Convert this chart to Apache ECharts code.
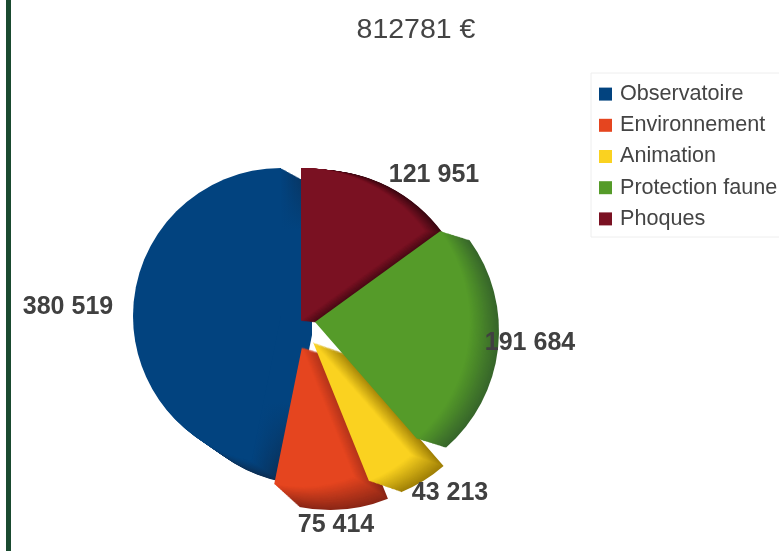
<!DOCTYPE html>
<html>
<head>
<meta charset="utf-8">
<title>812781 €</title>
<style>
  html, body { margin: 0; padding: 0; background: #fff; }
  #main { width: 779px; height: 551px; }
</style>
<script src="https://cdn.jsdelivr.net/npm/echarts@6/dist/echarts.min.js"></script>
</head>
<body>
<div id="main"></div>
<script>
const categories = ['Observatoire', 'Environnement', 'Animation', 'Protection faune', 'Phoques']
const values = [380519, 75414, 43213, 191684, 121951]
const title = '812781 €'

const faceColors = ['#02437f', '#e5451f', '#fad220', '#559b29', '#7a1122']
const rimColors = ['#0b2c50', '#8a2616', '#a08006', '#37662a', '#3a0711']

// each slice is pulled out on its own: face centre and radius, then where the extrusion ends
const sliceShape = [
  { c: [281, 316], r: 148, c2: [312, 335], r2: 150 },
  { c: [302, 347], r: 140, c2: [330, 355], r2: 155 },
  { c: [313, 342], r: 150, c2: [345, 353], r2: 150 },
  { c: [315, 322], r: 155, c2: [344, 331], r2: 155 },
  { c: [301, 321], r: 153, c2: [319, 323], r2: 153 }
]
const labelSpots = [[68, 307], [336, 525], [450, 493], [530, 343], [434, 175]]
const drawOrder = [0, 1, 2, 4, 3]
const rimSteps = 26

function mix(a, b, t) {
  const pa = parseInt(a.slice(1), 16)
  const pb = parseInt(b.slice(1), 16)
  const ch = s => Math.round(((pa >> s) & 255) * (1 - t) + ((pb >> s) & 255) * t)
  return `rgb(${ch(16)},${ch(8)},${ch(0)})`
}

function rimColor(i, t) {
  const dark = mix(faceColors[i], rimColors[i], t)
  if (i !== 0) return dark
  // the blue slice only darkens at its two ends, the middle stays flat
  return new echarts.graphic.LinearGradient(0, 168, 0, 480, [
    { offset: 0, color: dark },
    { offset: 0.2, color: faceColors[0] },
    { offset: 0.75, color: faceColors[0] },
    { offset: 1, color: dark }
  ], true)
}

function pieLayer(index, center, radius, color) {
  return {
    type: 'pie',
    silent: true,
    animation: false,
    startAngle: 90,
    clockwise: false,
    center: center,
    radius: [0, radius],
    label: { show: false },
    labelLine: { show: false },
    data: categories.map((name, i) => ({
      name: name,
      value: values[i],
      itemStyle: { color: i === index ? color : 'transparent', borderWidth: 0 }
    }))
  }
}

const series = []
drawOrder.forEach(i => {
  const s = sliceShape[i]
  for (let k = rimSteps; k > 0; k--) {
    const t = k / rimSteps
    series.push(pieLayer(
      i,
      [s.c[0] + (s.c2[0] - s.c[0]) * t, s.c[1] + (s.c2[1] - s.c[1]) * t],
      s.r + (s.r2 - s.r) * t,
      rimColor(i, t)
    ))
  }
  series.push(pieLayer(i, s.c, s.r, faceColors[i]))
})

// labels sit on their own invisible pie so nothing covers them
series.push({
  type: 'pie',
  silent: true,
  animation: false,
  startAngle: 90,
  clockwise: false,
  center: [301, 320],
  radius: [0, 150],
  avoidLabelOverlap: false,
  z: 5,
  itemStyle: { color: 'transparent' },
  labelLine: { show: false },
  label: {
    show: true,
    position: 'outside',
    color: '#404040',
    fontFamily: 'Liberation Sans',
    fontWeight: 'bold',
    fontSize: 25,
    formatter: p => String(p.value).replace(/\B(?=(\d{3})+$)/g, ' ')
  },
  labelLayout: p => ({
    x: labelSpots[p.dataIndex][0],
    y: labelSpots[p.dataIndex][1],
    align: 'center',
    verticalAlign: 'middle'
  }),
  data: categories.map((name, i) => ({ name: name, value: values[i] }))
})

const chart = echarts.init(document.getElementById('main'), null, { renderer: 'canvas' })
chart.setOption({
  backgroundColor: '#ffffff',
  animation: false,
  title: {
    text: title,
    left: 411,
    top: 11,
    textAlign: 'center',
    textStyle: {
      color: '#444444',
      fontFamily: 'Liberation Sans',
      fontWeight: 'normal',
      fontSize: 28.5
    }
  },
  legend: {
    orient: 'vertical',
    left: 591,
    top: 73,
    padding: [9, 8, 6, 8],
    borderColor: '#eeeeee',
    borderWidth: 1,
    itemWidth: 13,
    itemHeight: 13,
    itemGap: 7,
    selectedMode: false,
    icon: 'rect',
    textStyle: {
      color: '#444444',
      fontFamily: 'Liberation Sans',
      fontSize: 21.6,
      lineHeight: 24.2,
      padding: [0, 0, 0, 3]
    },
    data: categories.map((name, i) => ({ name: name, itemStyle: { color: faceColors[i] } }))
  },
  graphic: [
    {
      type: 'rect',
      silent: true,
      shape: { x: 6, y: 0, width: 5, height: 551 },
      style: { fill: '#1a4a30' }
    }
  ],
  series: series
})
</script>
</body>
</html>
